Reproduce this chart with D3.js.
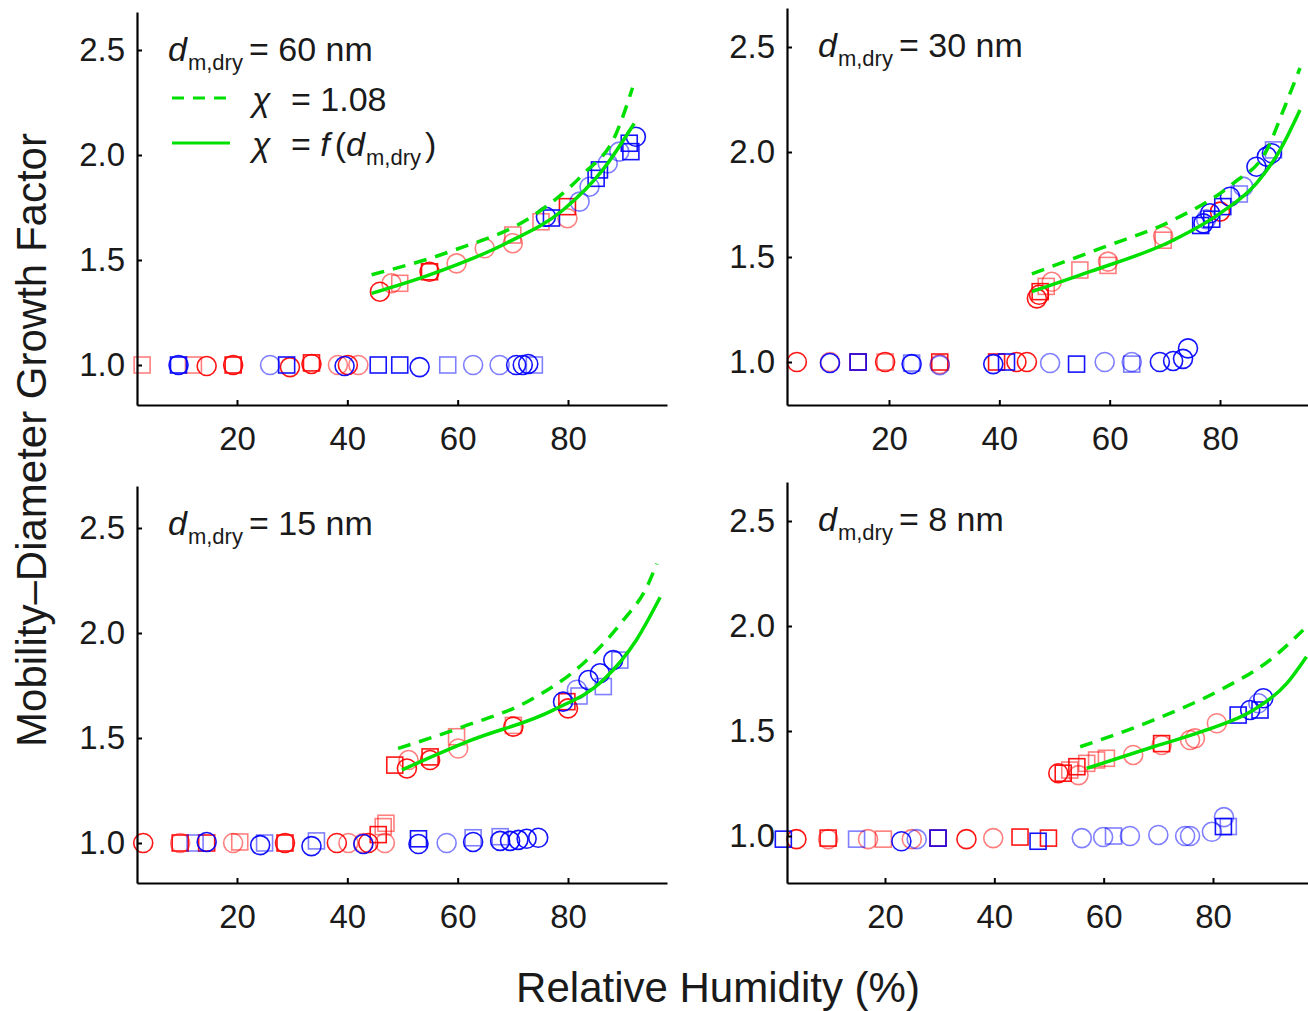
<!DOCTYPE html>
<html>
<head>
<meta charset="utf-8">
<script src="https://cdn.jsdelivr.net/npm/d3@7"></script>
<style>
  body { margin: 0; background: #fff; }
  svg { display: block; font-family: "Liberation Sans", Arial, Helvetica, sans-serif; }
  .tick text { fill: #1a1a1a; font-size: 33px; }
</style>
</head>
<body>
<svg id="chart" width="1308" height="1011"></svg>
<script>
// dry diameters (panel titles)
var sizes = ['60', '30', '15', '8'];
var chiConst = '1.08';
var xTicks = [20, 40, 60, 80];
var yTicks = [1.0, 1.5, 2.0, 2.5];

// points: [RH %, growth factor, run (0 = dark, 1 = light)]
var redCircles60 = [[14.5,0.995,0],[19.3,1.0,0],[29.6,0.99,0],[33.5,1.005,0],[38.3,1.0,1],[40.1,1.0,0],[42,1.0,1],
  [45.9,1.349,0],[48,1.389,1],[54.9,1.444,0],[59.8,1.484,1],[64.9,1.556,1],[70,1.58,1],[79.9,1.699,1]];
var redSquares60 = [[2.8,1.0,1],[12.1,1.0,1],[19.3,1.0,0],[33.5,1.01,0],
  [49.5,1.389,1],[54.9,1.444,0],[70,1.619,1],[75.1,1.682,1],[79.9,1.754,0]];
var blueCircles60 = [[9.4,1.0,0],[26,1.0,1],[39.5,0.995,0],[53.1,0.99,0],[62.8,1.0,1],[67.6,1.0,1],[70.6,1.0,0],[71.8,1.0,0],[72.8,1.005,0],
  [76,1.706,0],[82.1,1.778,1],[83.9,1.849,1],[87.2,1.96,1],[89.3,2.016,1],[92.3,2.087,0]];
var blueSquares60 = [[9.4,1.0,0],[29,1.0,0],[45.6,1.0,0],[49.5,1.0,0],[58.2,1.0,1],[73.9,1.0,1],
  [77,1.70,0],[85.1,1.889,0],[85.7,1.929,0],[91.1,2.056,0],[91.4,2.016,0]];

var redCircles30 = [[3.3,1.0,0],[9.3,1.0,1],[19.3,1.0,0],[29.2,0.99,1],[43.1,1.0,0],[45,1.0,0],
  [46.8,1.303,0],[47.2,1.32,0],[49.5,1.382,1],[59.7,1.478,1],[69.7,1.60,1],[80,1.716,0]];
var redSquares30 = [[14.4,1.0,0],[19.3,1.0,1],[29.2,1.0,0],[39.5,1.0,0],
  [47.4,1.335,0],[48.5,1.36,1],[54.6,1.438,1],[59.7,1.46,1],[69.7,1.58,1]];
var blueCircles30 = [[9.3,0.995,0],[24.1,0.99,0],[29.2,0.985,1],[38.9,0.99,0],[49.2,0.995,1],[59.1,1.0,1],[64,1.0,1],[69.1,1.0,0],[71.5,1.005,0],[73.3,1.015,0],[74.2,1.065,0],
  [77,1.66,0],[77.5,1.68,1],[78.2,1.708,0],[81.8,1.787,0],[84.2,1.835,1],[86.6,1.93,0],[88.5,1.978,0],[89.4,1.994,0]];
var blueSquares30 = [[14.4,1.0,0],[24.1,0.995,1],[41.3,1.0,0],[54,0.99,0],[64,0.99,1],
  [76.5,1.65,0],[78.5,1.68,0],[80.5,1.74,0],[83.5,1.80,1],[89.7,2.01,1]];

var redCircles15 = [[3,1.0,0],[9.7,1.0,1],[19.3,1.0,1],[28.7,1.0,0],[38.1,1.0,0],[40.2,1.0,1],[42.9,1.0,1],[43.8,1.0,0],[46.8,1.0,1],
  [50.8,1.355,0],[51.1,1.395,1],[55,1.395,0],[60.1,1.45,1],[70.1,1.554,0],[80,1.641,0]];
var redSquares15 = [[9.7,1.0,0],[14.5,1.0,0],[20.5,1.005,1],[28.7,1.0,0],[45.6,1.04,0],[46.5,1.078,1],[47,1.094,1],
  [48.6,1.371,0],[55,1.41,0],[59.8,1.506,1],[70.1,1.56,1],[79.8,1.673,0]];
var blueCircles15 = [[14.5,1.005,0],[24.2,0.99,0],[33.5,0.985,0],[42.9,0.995,0],[52.9,0.995,0],[58,1.0,1],[62.8,1.005,0],[67.7,1.01,0],[69.5,1.01,0],[71,1.015,0],[72.5,1.02,0],[74.6,1.025,0],
  [79.1,1.673,0],[81.6,1.73,1],[83.7,1.776,0],[85.8,1.808,0],[88.2,1.871,0]];
var blueSquares15 = [[12.4,1.0,1],[25,1.0,1],[34.4,1.01,1],[52.9,1.02,0],[62.8,1.025,1],[67.7,1.03,1],
  [82,1.70,1],[86.4,1.745,1],[89.4,1.871,1]];

var redCircles8 = [[3.8,0.985,0],[9.6,0.985,1],[16.9,0.985,1],[24.9,0.985,1],[34.9,0.985,0],[39.8,0.99,1],
  [51.7,1.299,0],[55.4,1.29,1],[65.4,1.386,1],[70.6,1.433,1],[75.8,1.457,1],[76.7,1.465,1],[80.7,1.537,1]];
var redSquares8 = [[9.6,0.99,0],[19.7,0.985,1],[29.7,0.99,0],[44.7,0.995,0],[49.9,0.99,0],
  [52.6,1.299,0],[53.8,1.314,1],[55.1,1.33,0],[56.9,1.346,1],[58.7,1.362,1],[60.5,1.37,1],[70.6,1.44,0]];
var blueCircles8 = [[23,0.975,0],[25.8,0.985,1],[56,0.99,1],[59.9,0.995,1],[64.8,1.0,1],[70,1.005,1],[74.9,1.0,1],[75.8,1.0,1],[79.8,1.02,1],[82,1.09,1],
  [86.8,1.6,0],[88.3,1.632,1],[89.2,1.656,0]];
var blueSquares8 = [[1.4,0.985,0],[14.8,0.985,1],[29.7,0.99,0],[48,0.975,0],[61.8,1.0,1],[81.9,1.045,0],[82.8,1.045,1],
  [84.6,1.576,0],[88.6,1.6,0]];

// model curves: [RH %, growth factor]
var chiConst60 = [[44.4,1.43],[58.6,1.54],[74.2,1.72],[82.6,1.905],[88.7,2.10],[91.7,2.32]];
var chiFit60 = [[44.4,1.341],[54.9,1.429],[68.8,1.58],[79.1,1.738],[86.3,1.929],[92.0,2.15]];
var chiConst30 = [[45.9,1.42],[58.2,1.54],[71.5,1.676],[82.4,1.851],[88.5,2.01],[91.5,2.2],[94.5,2.4]];
var chiFit30 = [[45.9,1.335],[56.4,1.43],[71.5,1.58],[80,1.708],[86.6,1.851],[90.9,2.01],[94.5,2.2]];
var chiConst15 = [[49.2,1.45],[61,1.554],[73.1,1.68],[82.8,1.856],[90,2.06],[94.3,2.22],[96.1,2.33]];
var chiFit15 = [[49.9,1.348],[62.2,1.487],[77.3,1.633],[86.4,1.776],[92.4,1.967],[96.7,2.17]];
var chiConst8 = [[55.7,1.425],[69.1,1.552],[81.3,1.695],[90.4,1.838],[96.5,1.981]];
var chiFit8 = [[56.9,1.322],[69.1,1.425],[78.8,1.505],[87.4,1.6],[93.5,1.727],[97.1,1.854]];

var RED = '#ff0000', BLUE = '#0000ff', GREEN = '#00e000';

// panel layout: box edges, pixel of RH 20/80 and of growth factor 1.0/2.5
var panels = [
  {size: sizes[0], left: 137, right: 667, top: 12, bottom: 405, x20: 237, x80: 568, y1: 365, y25: 50,
   rc: redCircles60, rs: redSquares60, bc: blueCircles60, bs: blueSquares60, dash: chiConst60, fit: chiFit60, legend: true},
  {size: sizes[1], left: 787, right: 1312, top: 8, bottom: 405, x20: 889, x80: 1220, y1: 362, y25: 47,
   rc: redCircles30, rs: redSquares30, bc: blueCircles30, bs: blueSquares30, dash: chiConst30, fit: chiFit30},
  {size: sizes[2], left: 137, right: 667, top: 486, bottom: 883, x20: 237, x80: 568, y1: 843, y25: 528,
   rc: redCircles15, rs: redSquares15, bc: blueCircles15, bs: blueSquares15, dash: chiConst15, fit: chiFit15},
  {size: sizes[3], left: 787, right: 1312, top: 482, bottom: 883, x20: 885, x80: 1213, y1: 836, y25: 521,
   rc: redCircles8, rs: redSquares8, bc: blueCircles8, bs: blueSquares8, dash: chiConst8, fit: chiFit8}
];

var svg = d3.select('#chart');

panels.forEach(function (p) {
  var x = d3.scaleLinear().domain([20, 80]).range([p.x20, p.x80]);
  x.domain([x.invert(p.left), x.invert(p.right)]).range([p.left, p.right]);
  var y = d3.scaleLinear().domain([1, 2.5]).range([p.y1, p.y25]);
  y.domain([y.invert(p.bottom), y.invert(p.top)]).range([p.bottom, p.top]);

  var g = svg.append('g');

  // markers
  function opac(d) { return d[2] ? 0.5 : 0.92; }
  function circles(data, color) {
    g.selectAll(null).data(data).enter().append('circle')
      .attr('cx', function (d) { return x(d[0]); })
      .attr('cy', function (d) { return y(d[1]); })
      .attr('r', 9.5)
      .attr('fill', 'none').attr('stroke', color).attr('stroke-width', 1.6)
      .attr('stroke-opacity', opac);
  }
  function squares(data, color) {
    g.selectAll(null).data(data).enter().append('rect')
      .attr('x', function (d) { return x(d[0]) - 8; })
      .attr('y', function (d) { return y(d[1]) - 8; })
      .attr('width', 16).attr('height', 16)
      .attr('fill', 'none').attr('stroke', color).attr('stroke-width', 1.6)
      .attr('stroke-opacity', opac);
  }
  squares(p.rs, RED);
  circles(p.rc, RED);
  squares(p.bs, BLUE);
  circles(p.bc, BLUE);

  var line = d3.line().x(function (d) { return x(d[0]); }).y(function (d) { return y(d[1]); })
    .curve(d3.curveMonotoneX);
  g.append('path').attr('d', line(p.dash)).attr('fill', 'none').attr('stroke', GREEN)
    .attr('stroke-width', 3.5).attr('stroke-dasharray', '13,9');
  g.append('path').attr('d', line(p.fit)).attr('fill', 'none').attr('stroke', GREEN)
    .attr('stroke-width', 3.5);

  // axes
  var xa = g.append('g').attr('transform', 'translate(0,' + p.bottom + ')')
    .call(d3.axisBottom(x).tickValues(xTicks).tickSizeInner(-5).tickSizeOuter(0).tickPadding(22));
  var ya = g.append('g').attr('transform', 'translate(' + p.left + ',0)')
    .call(d3.axisLeft(y).tickValues(yTicks).tickFormat(d3.format('.1f')).tickSizeInner(-5).tickSizeOuter(0).tickPadding(12));
  [xa, ya].forEach(function (a) {
    a.select('.domain').attr('stroke', '#000').attr('stroke-width', 2.2);
    a.selectAll('.tick line').attr('stroke', '#000').attr('stroke-width', 2);
    a.attr('font-size', null).attr('font-family', null);
  });

  // panel title
  var t = g.append('text').attr('x', p.left + 31).attr('y', p.top + 49)
    .attr('fill', '#1a1a1a').attr('font-size', 34);
  t.append('tspan').attr('font-style', 'italic').text('d');
  t.append('tspan').attr('font-size', 22).attr('dy', 9).attr('dx', 1).text('m,dry');
  t.append('tspan').attr('dy', -9).attr('dx', 6).text('= ' + p.size + ' nm');

  if (p.legend) {
    var lx = p.left + 35;
    g.append('line').attr('x1', lx).attr('x2', lx + 58).attr('y1', 98).attr('y2', 98)
      .attr('stroke', GREEN).attr('stroke-width', 3).attr('stroke-dasharray', '12,9');
    g.append('line').attr('x1', lx).attr('x2', lx + 58).attr('y1', 143).attr('y2', 143)
      .attr('stroke', GREEN).attr('stroke-width', 3);
    var l1 = g.append('text').attr('x', lx + 80).attr('y', 111).attr('fill', '#1a1a1a').attr('font-size', 34);
    l1.append('tspan').attr('font-style', 'italic').text('χ');
    l1.append('tspan').attr('x', lx + 119).text('= ' + chiConst);
    var l2 = g.append('text').attr('x', lx + 80).attr('y', 156).attr('fill', '#1a1a1a').attr('font-size', 34);
    l2.append('tspan').attr('font-style', 'italic').text('χ');
    l2.append('tspan').attr('x', lx + 119).text('= ');
    l2.append('tspan').attr('font-style', 'italic').text('f');
    l2.append('tspan').attr('dx', 5).text('(');
    l2.append('tspan').attr('font-style', 'italic').text('d');
    l2.append('tspan').attr('font-size', 22).attr('dy', 9).attr('dx', 1).text('m,dry');
    l2.append('tspan').attr('dy', -9).attr('dx', 4).text(')');
  }
});

// shared axis titles
svg.append('text').attr('x', 718).attr('y', 1002).attr('text-anchor', 'middle')
  .attr('font-size', 42).attr('fill', '#1a1a1a').text('Relative Humidity (%)');
svg.append('text').attr('transform', 'translate(46,440) rotate(-90)').attr('text-anchor', 'middle')
  .attr('font-size', 42).attr('fill', '#1a1a1a').text('Mobility–Diameter Growth Factor');
</script>
</body>
</html>
